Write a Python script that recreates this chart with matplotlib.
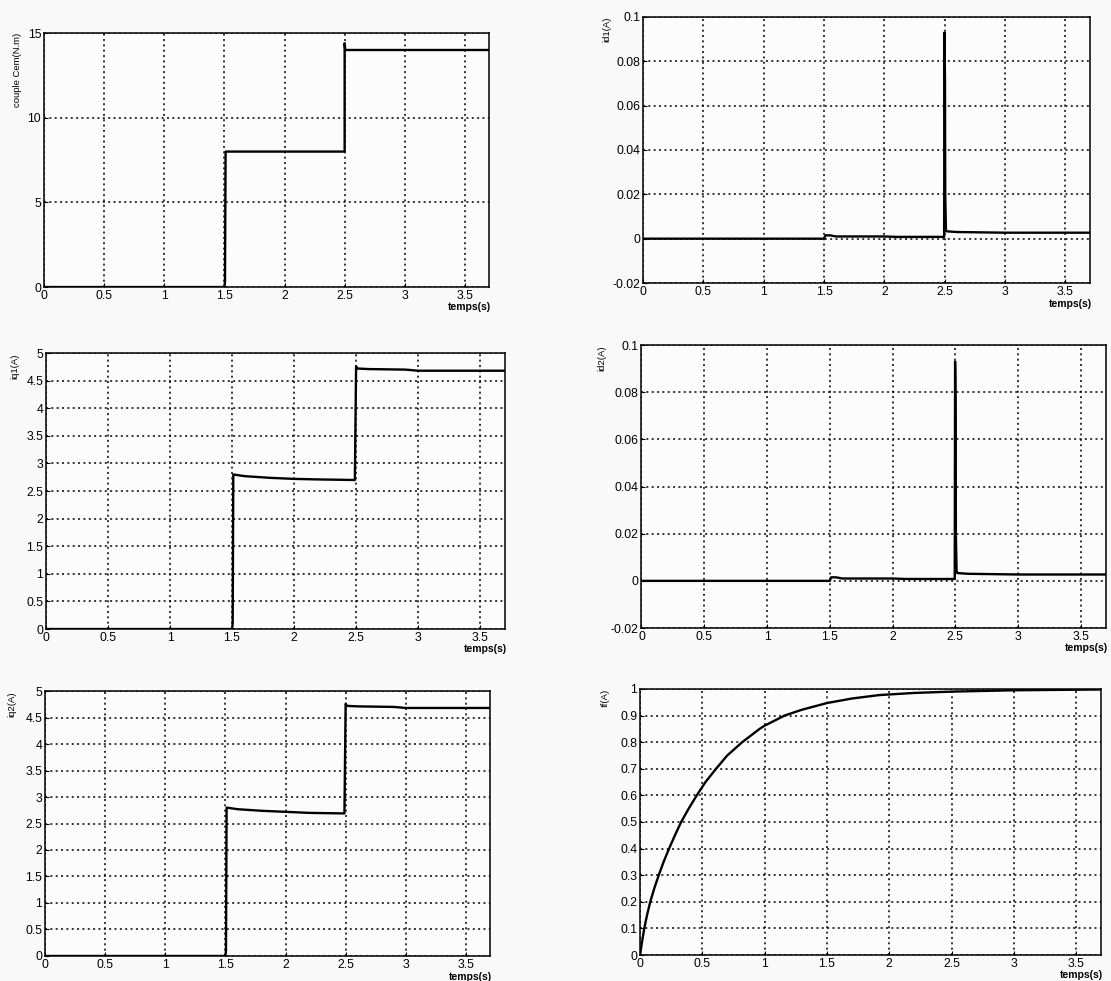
import matplotlib
matplotlib.use("Agg")
import matplotlib.pyplot as plt

plt.rcParams['font.family'] = ['Liberation Sans', 'DejaVu Sans']

# --- donnees ---
x_ticks = [0, 0.5, 1, 1.5, 2, 2.5, 3, 3.5]
x_tick_labels = ['0', '0.5', '1', '1.5', '2', '2.5', '3', '3.5']

t_cem = [0, 1.5, 1.505, 1.51, 2.5, 2.5, 2.505, 3.7]
cem = [0, 0, 0.3, 8, 8, 14.4, 14, 14]
cem_ticks = [0, 5, 10, 15]
cem_tick_labels = ['0', '5', '10', '15']

t_id1 = [0, 1.5, 1.51, 1.55, 1.6, 2.0, 2.1, 2.495, 2.498, 2.5, 2.502, 2.504, 2.51, 2.52, 2.6, 3.0, 3.7]
id1 = [0, 0, 0.0015, 0.0015, 0.001, 0.001, 0.0008, 0.0008, 0.093, 0.08, 0.072, 0.02, 0.0035, 0.0033, 0.003, 0.0027, 0.0027]

t_id2 = [0, 1.5, 1.51, 1.55, 1.6, 2.0, 2.1, 2.495, 2.498, 2.5, 2.502, 2.504, 2.51, 2.52, 2.6, 3.0, 3.7]
id2 = [0, 0, 0.0015, 0.0015, 0.001, 0.001, 0.0008, 0.0008, 0.093, 0.085, 0.07, 0.02, 0.0035, 0.0033, 0.003, 0.0027, 0.0027]
id_ticks = [-0.02, 0, 0.02, 0.04, 0.06, 0.08, 0.1]
id_tick_labels = ['-0.02', '0', '0.02', '0.04', '0.06', '0.08', '0.1']

t_iq1 = [0, 1.5, 1.505, 1.51, 1.6, 1.8, 2.0, 2.2, 2.49, 2.5, 2.51, 2.6, 2.9, 3.0, 3.7]
iq1 = [0, 0, 0.1, 2.8, 2.77, 2.74, 2.72, 2.71, 2.7, 4.76, 4.72, 4.71, 4.70, 4.68, 4.68]

t_iq2 = [0, 1.5, 1.505, 1.51, 1.6, 1.8, 2.0, 2.2, 2.49, 2.5, 2.51, 2.6, 2.9, 3.0, 3.7]
iq2 = [0, 0, 0.1, 2.8, 2.77, 2.74, 2.72, 2.70, 2.69, 4.76, 4.72, 4.71, 4.70, 4.68, 4.68]
iq_ticks = [0, 0.5, 1, 1.5, 2, 2.5, 3, 3.5, 4, 4.5, 5]
iq_tick_labels = ['0', '0.5', '1', '1.5', '2', '2.5', '3', '3.5', '4', '4.5', '5']

t_if = [0, 0.016, 0.034, 0.056, 0.082, 0.114, 0.15, 0.189, 0.233, 0.28, 0.33, 0.39, 0.455,
        0.525, 0.61, 0.70, 0.82, 0.96, 1.0, 1.16, 1.3, 1.5, 1.7, 1.92, 2.2, 2.5, 3.0, 3.7]
i_f = [0, 0.05, 0.1, 0.15, 0.2, 0.25, 0.3, 0.35, 0.4, 0.45, 0.5, 0.55, 0.6,
       0.65, 0.7, 0.75, 0.8, 0.85, 0.862, 0.9, 0.922, 0.947, 0.964, 0.977, 0.985, 0.99, 0.995, 0.998]
if_ticks = [0, 0.1, 0.2, 0.3, 0.4, 0.5, 0.6, 0.7, 0.8, 0.9, 1]
if_tick_labels = ['0', '0.1', '0.2', '0.3', '0.4', '0.5', '0.6', '0.7', '0.8', '0.9', '1']

fig = plt.figure(figsize=(11.11, 9.81), dpi=100)
fig.patch.set_facecolor('#f9f9f9')


def panneau(pos, t, y, ylim, yticks, ylabels, nom, lab_x, temps_y):
    ax = fig.add_axes(pos)
    ax.set_facecolor('#fcfcfc')
    ax.plot(t, y, color='black', lw=1.7)
    ax.set_xlim(0, 3.7)
    ax.set_ylim(*ylim)
    ax.set_xticks(x_ticks)
    ax.set_xticklabels(x_tick_labels)
    ax.set_yticks(yticks)
    ax.set_yticklabels(ylabels)
    ax.grid(True, color='black', linestyle=(0, (1.3, 2.2)), lw=1.1)
    ax.tick_params(direction='in', length=3, labelsize=8.8, pad=2)
    for s in ax.spines.values():
        s.set_linewidth(1.1)
    ax.set_ylabel(nom, fontsize=6.8, loc='top', labelpad=0)
    ax.yaxis.set_label_coords(lab_x, 1.0)
    ax.text(1.005, temps_y, 'temps(s)', transform=ax.transAxes, ha='right',
            va='center', fontsize=7.5, fontweight='bold')
    return ax


panneau([0.0396, 0.7074, 0.4005, 0.2589], t_cem, cem, (0, 15), cem_ticks, cem_tick_labels,
        'couple Cem(N.m)', -0.049, -0.078)
panneau([0.5788, 0.7115, 0.4019, 0.2712], t_id1, id1, (-0.02, 0.1), id_ticks, id_tick_labels,
        'id1(A)', -0.07, -0.08)
panneau([0.0414, 0.3588, 0.4131, 0.2813], t_iq1, iq1, (0, 5), iq_ticks, iq_tick_labels,
        'iq1(A)', -0.059, -0.072)
panneau([0.5774, 0.3598, 0.4181, 0.2885], t_id2, id2, (-0.02, 0.1), id_ticks, id_tick_labels,
        'id2(A)', -0.076, -0.072)
panneau([0.0405, 0.0255, 0.4005, 0.2701], t_iq2, iq2, (0, 5), iq_ticks, iq_tick_labels,
        'iq2(A)', -0.065, -0.078)
panneau([0.5761, 0.0265, 0.4149, 0.2712], t_if, i_f, (0, 1), if_ticks, if_tick_labels,
        'If(A)', -0.067, -0.075)

fig.savefig('out.png', dpi=100, facecolor=fig.get_facecolor())
